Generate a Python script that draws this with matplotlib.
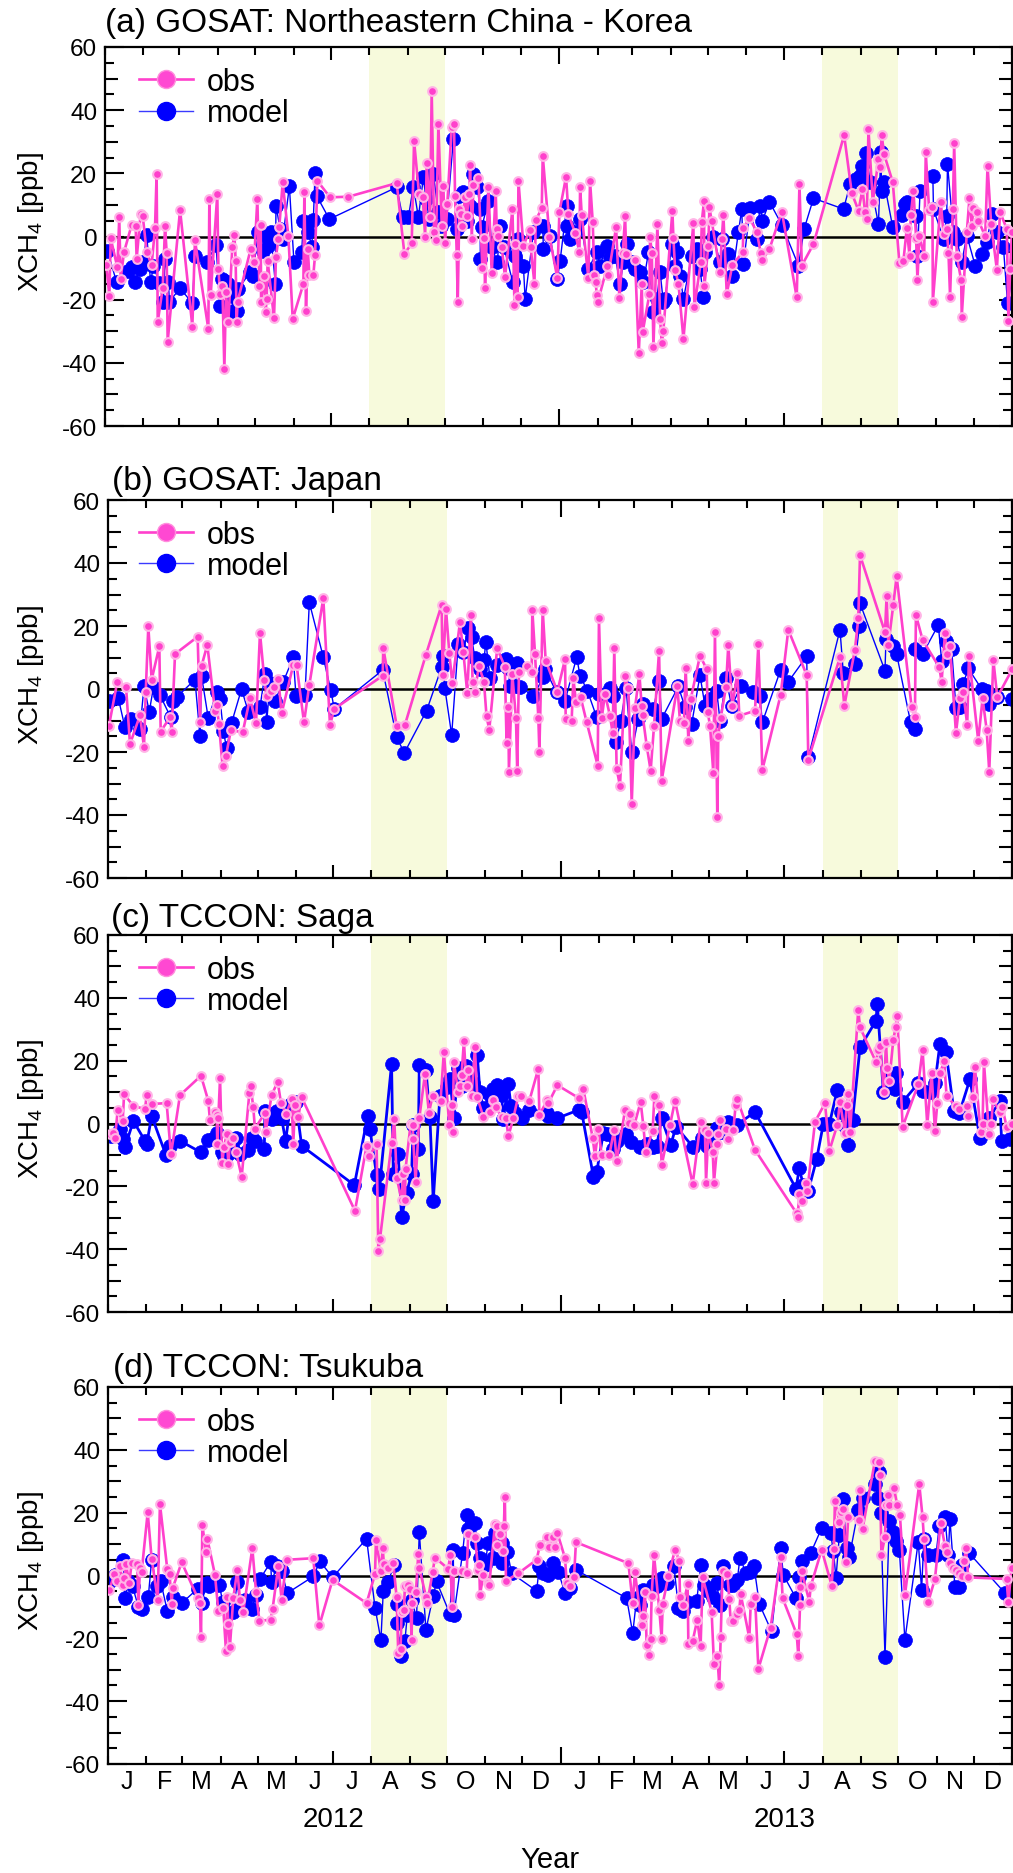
import datetime as dt
import numpy as np
import matplotlib
matplotlib.use("Agg")
import matplotlib.pyplot as plt
from matplotlib.lines import Line2D
from matplotlib.ticker import FixedLocator, MultipleLocator, NullFormatter, FuncFormatter

plt.rcParams['font.family'] = ['Liberation Sans', 'DejaVu Sans']
plt.rcParams['mathtext.default'] = 'regular'

# ---------------- data (day since 2012-01-01, XCH4 anomaly [ppb]) ----------------
panel_titles = ["(a) GOSAT: Northeastern China - Korea", "(b) GOSAT: Japan",
                "(c) TCCON: Saga", "(d) TCCON: Tsukuba"]
shade_periods = [("2012-08-01", "2012-10-01"), ("2013-08-01", "2013-10-01")]
month_letters = list("JFMAMJJASOND") * 2
year_labels = [("2012", "2012-07-01"), ("2013", "2013-07-01")]
series_labels = ["obs", "model"]

obs_a = [(1,-9),(3.5,-18.7),(4.6,-0.6),(10,-9.8),(11.5,6.1),(12.6,-13.5),(15.3,-5),(21.5,3.7),(24.7,3.4),
 (25.5,-7.1),(28.7,7.1),(30.4,6.6),(33.6,-5),(37.6,-9),(40.3,2.6),(41.6,19.8),(42.5,-27),(46.5,-16.4),
 (48.4,3.4),(49.7,-5.2),(50.5,-33.3),(60.5,8.4),(70.4,-28.5),(72.5,-1.2),(83.3,-29.3),(84.1,11.9),
 (85.2,-18.5),(90.5,13.5),(91.4,-10.3),(92.7,-18.2),(94.6,-15.6),(96.2,-42),(97.5,-17.7),(99.4,-27),
 (102.6,-3.4),(104.3,0.5),(105.3,-7.7),(106.1,-27),(106.9,-20.6),(117.4,-4),(120.1,-8.2),(122.8,11.9),
 (124.4,-15.6),(125.5,3.6),(125.8,-20.8),(128.2,-12.4),(129.5,-23.8),(130.3,-19.8),(131.1,-7.7),
 (136.2,-25.9),(137.8,-6.6),(139.7,-0.8),(140.5,3.1),(143.2,17.2),(147.8,0.1),(151.3,-26.1),(159.9,-15),
 (160.7,14.2),(162,-23.5),(163.4,-4),(164.7,-12.2),(167.9,-12.2),(169.3,-5.9),(171.2,17.6),(181.4,12.4),
 (196.2,12.6),(235.1,16.9),(241.3,-5.5),(247.2,-2.2),(249.1,30.3),(253.1,13.5),(256.1,12.4),(258,0),
 (259.3,23.2),(262,6.1),(263.3,46.2),(265.2,1.3),(266.8,-1.1),(268.7,35.6),(271.4,3.4),(272.7,16.1),
 (274.1,-2.1),(275.9,10.3),(279.4,34.6),(281.3,35.6),(282.1,12.9),(283.5,-5.9),(284.3,-20.6),(285.6,8.7),
 (286.7,7.1),(287.5,3.4),(290.2,12.4),(291.6,6.6),(293.7,13.5),(294.2,22.7),(295.6,-0.8),(296.9,16.3),
 (300.9,18.5),(304.2,-10.1),(305.5,-0.6),(306.3,-16.4),(309,15.8),(311.7,-11.7),(314.9,14.5),(315.7,2.4),
 (317.1,0.3),(319.8,-3.4),(322.4,-12.9),(328.4,8.7),(330,-21.7),(330.5,-2.3),(332.6,-19.3),(333.2,17.7),
 (337.2,-2.9),(342.6,2.2),(343.1,-3.4),(346.1,-15),(347.2,5.2),(352,8.9),(352.8,25.6),(358.2,0),
 (364.6,-13.2),(366.2,7.7),(371.6,18.9),(373.5,7.1),(378.9,1.1),(382.4,-5),(382.9,15.8),(384.2,6.9),
 (389.6,-13.2),(390.9,17.7),(393.1,4.5),(394.4,-12.2),(395.5,-14.5),(396.3,-18.5),(397.1,-20.8),
 (404.9,-9.4),(405.7,-12.2),(411.9,2.9),(414.6,-19.6),(417.3,-5.3),(419.2,6.6),(420,-5.5),(427.2,-7.4),
 (430.2,-37),(432.6,-15),(433.4,-30.1),(438.8,-18.2),(439.3,-0.2),(440.7,-5.2),(442,-35.1),(445.2,3.8),
 (447.4,-26.1),(448.7,-33.8),(450,-30),(457.3,8.2),(458.1,-0.5),(459.5,-10.5),(462.2,-15),(466.2,-32.5),
 (474.2,4.3),(475,-22.4),(480.2,-8),(481,4.7),(482.8,11.3),(483.1,-15.6),(486.3,-2.9),(487.1,9.2),
 (489,4.9),(495.7,-11.3),(497.1,-0.8),(498.4,6.9),(501.1,-18.2),(505.7,-8.9),(514,-5),(514.5,2.6),
 (519.4,5.9),(525.3,1.4),(528.5,-5.2),(529.9,-7.4),(535.5,-4),(545.5,7.9),(557.5,-19.3),(559.7,16.6),
 (561.6,-9.2),(571,-2.4),(595.7,32.1),(601.9,13.7),(607.3,8.2),(610.5,15),(612.6,7.7),(614,5.5),
 (615.3,34),(618.8,11),(623.4,24.5),(624.7,21.9),(626,32.1),(627.9,26.1),(634.9,17.2),(640.3,-8.5),
 (643.5,-7.7),(646.2,2.6),(648.4,-6.1),(649.4,6.8),(651.6,14.5),(653.7,-0.5),(654.8,-13.8),(656.4,0.3),
 (660.2,-6.1),(661.5,26.6),(664.2,8.5),(666.9,9.2),(667.2,-20.6),(673.6,11),(675.8,0.8),(678.4,2.4),
 (679.8,-5.2),(681.1,-19),(683.3,8.7),(684.4,29.5),(686.5,-6.1),(690,-13.8),(690.5,-25.4),(694.6,1.4),
 (696.7,12.1),(698.6,3.4),(699.9,8.9),(702.7,7.7),(704,5),(709.4,0.1),(711.3,22.4),(714.2,3.9),
 (718.8,-10.5),(721.4,7.7),(726.8,2.4),(728.1,-26.6),(729.5,-10.3),(731,1.4)]

model_a = [(1.9,-4.5),(9.4,-14.5),(18.8,-10.8),(21.5,-9.8),(24.2,-14.3),(28.2,-10.3),(30.9,-8.2),(33.6,0.5),
 (36.8,-14.5),(39,-9.2),(43.8,-14.7),(47,-20.8),(48.4,-7.1),(51.1,-14.5),(51.9,-20.6),(60.5,-16.4),
 (70.4,-21.1),(72.5,-6.3),(81.9,-8.2),(89.5,-2.7),(92.7,-21.9),(94,-13.5),(96.7,-14),(99.4,-15),
 (102.1,-18.7),(103.4,-23.5),(106.7,-23.5),(107.5,-16.6),(116.9,-11.3),(119,-12.4),(123.6,1.4),
 (127.6,-4.5),(130.3,-0.2),(131.7,-2.9),(133.5,1.4),(137.3,-15),(137.8,9.8),(141.1,2.4),(143.2,-0.8),
 (148.6,15.9),(152.3,-8.2),(158.5,-5),(159.9,5),(163.9,1.4),(166.6,-3.4),(167.9,5.2),(169.3,20.1),
 (170.6,12.9),(180.8,5.5),(235.1,15.6),(239.9,6.1),(244.5,6.1),(248.5,15.8),(252.6,6.1),(256.6,18.7),
 (258.7,11.9),(261.4,5.5),(264.6,19.8),(268.7,7.6),(270.6,3.4),(275.4,5.5),(280.8,30.9),(283.5,2.4),
 (285.6,12.9),(288.8,14),(291.5,5),(294.2,9.8),(296.9,19.8),(300.1,15.6),(302.3,8.7),(302.5,-7.1),
 (303.6,2.9),(309,11.3),(311.7,-3.4),(316.2,-8.2),(318.4,3.4),(321.6,-3.4),(328.6,-14.5),(330.5,-6.1),
 (333.2,-0.8),(337.2,-9.2),(338.6,-19.8),(345.3,1.4),(352.8,3.4),(353.3,-3.9),(358.7,0.1),(364.6,-13.5),
 (366.8,-7.7),(372.1,9.6),(372.5,3.4),(374.8,-0.8),(378.9,1.4),(382.9,5.5),(389.6,-10.3),(396.3,-5),
 (399,-9.2),(404.4,-2.9),(407.1,-6.6),(411.1,-6.1),(415.1,-15),(417.8,-8.2),(420.5,-2.4),(424.5,-8.2),
 (427.2,-10.3),(431.3,-11.3),(434,-14.5),(438,-5),(442,-24),(444.7,-19.8),(447.4,-11.3),(450,-20.8),
 (451.4,-19.8),(456.8,-2.4),(459.5,-9.2),(460.8,-5),(463.5,-12.4),(466.2,-19.8),(472.9,-6.1),
 (476.9,-3.9),(479.6,-10.3),(482.3,-19.3),(483.7,-5),(490.4,-0.2),(495.7,-8.2),(497.1,-0.8),(502.5,-5.5),
 (505.7,-12.4),(510.5,1.4),(513.2,8.7),(514.6,-8.7),(519.9,8.9),(525.3,-0.8),(528,9.8),(529.9,5),
 (535.5,11),(545.5,3.7),(558.9,-9.2),(563.5,2.4),(571,12.1),(595.2,8.7),(600.6,16.6),(605.4,18.2),
 (608.1,19.3),(609.9,22.4),(613.4,26.4),(616.7,17.2),(623.4,4),(625.2,26.6),(626,14.5),(627.9,17.2),
 (634.9,2.9),(642.2,6.8),(644.8,10.3),(646.7,10.8),(653.7,6.6),(654.8,-6.1),(656.9,14.5),(667.2,19.3),
 (667.7,8.7),(675.8,-0.8),(678.4,6.6),(679,23),(683.8,1.4),(686.5,-0.8),(690.5,-8.2),(694.6,0.3),
 (701.3,-9.2),(706.7,-5.5),(710.7,-1.8),(714.7,7.1),(718.8,1.4),(724.1,-3.4),(727.4,-21.1),(731,-13.5)]

obs_b = [(0.8,-11.6),(7.5,2.3),(14.6,0.5),(17.8,-17.5),(25.9,-8.3),(29.1,-18.5),(30.5,-1.1),(32.6,19.9),
 (35.3,3),(41.5,13.5),(42.6,-13.5),(50.1,-9),(51.5,-13.5),(54.2,11.1),(72.5,16.6),(74.4,-10.6),(75.7,7.4),
 (80.3,14),(86.5,-6.9),(87.9,-5.1),(89.7,-11.1),(92.7,-24.6),(95.4,-21.2),(99.4,-13),(108.9,-13.8),
 (114.8,-3),(119.7,-10.8),(122.9,17.8),(126.4,3),(128.3,-2.3),(131.5,-0.5),(134.2,0.5),(137.7,3.2),
 (140.4,-7.7),(149.8,7.6),(152.5,7.6),(158.5,-10.6),(162.8,1.3),(174.1,28.8),(179.5,-11.4),(183,-6.3),
 (222.1,4.2),(222.6,13),(233.4,-11.6),(240.1,-11.4),(257.1,10.9),(269.8,26.7),(270.6,4.4),(273.3,25.4),
 (276,11.4),(278.4,1.9),(284.6,21.2),(287.3,11.9),(290.5,-1.3),(293.5,23.6),(294.8,2.3),(296.7,-0.8),
 (299.9,7.4),(304,2.3),(306.1,-8.7),(308.3,-12.9),(314.7,12.9),(320.9,7.1),(322.3,-17.1),(323.7,-5.8),
 (324.2,-26.2),(326.9,4.8),(329.9,-9.3),(330.9,-25.9),(332.3,5.3),(339.1,7.4),(342.6,5.3),(343.1,25.2),
 (345.3,11.1),(348,-9.3),(348.8,-19.9),(351.5,25.2),(353.9,9),(363.4,-0.8),(369.6,9.5),(370.1,-9.5),
 (374.9,-10.1),(376.3,3.4),(378.4,-4),(382.2,-2.6),(387.1,-10.6),(396,-24.3),(397,22.5),(399.2,-9.3),
 (401.9,-1.6),(405.9,-8.5),(408.1,-14),(409.4,12.9),(411.3,-25.4),(414,-30.7),(418.3,4),(420.8,0.2),
 (423.5,-36.5),(426.1,-6.1),(429.7,4.8),(431.5,-5.3),(432.3,-8.3),(435.6,-18),(438.8,-25.9),(441.5,-11.9),
 (445.6,12),(447.7,-29.1),(460.4,0.8),(462.5,-10.1),(465.8,-10.8),(467.1,6.8),(469.3,-16.4),(471.2,-3.2),
 (478.7,10.6),(484.1,6.3),(484.9,-7.2),(486.8,-11.6),(489.5,-26.8),(490.8,18.2),(492.7,-40.7),
 (493.5,-14.8),(495.4,-9.3),(499.7,0.5),(501.6,14),(504.8,-5.5),(508.9,5),(510.5,-8.5),(523.2,-6.9),
 (525.9,14.3),(529.1,-25.7),(543.9,-1.9),(550.1,18.8),(565,4.4),(566.3,-22.4),(591.9,10.1),(595.4,-5.3),
 (604,12.5),(606.7,22.4),(608.1,42.5),(628.3,18),(629.6,29.4),(631,14),(635,26.7),(637.7,35.8),
 (649.8,-5.6),(652.5,-9),(653.3,23.5),(658.7,15.6),(672.2,6.9),(674.1,2.3),(676.8,17.8),(678.1,11.1),
 (680.8,13.5),(685.7,-14),(688.9,-3),(691.6,-1.1),(694.8,-11.4),(696.2,10.6),(703.7,-16.4),(707.2,-3),
 (710.5,-12.9),(712.6,-26.2),(715.9,9.3),(719.1,-2.6),(731.2,6.3)]

model_b = [(0.8,-3.7),(8.4,-3),(13.7,-12.2),(18.3,-9.5),(25.9,-12.7),(29.1,0.8),(33.4,-7.2),(36.7,0.5),
 (42,-1.9),(50.7,-9),(52.8,-3.9),(55.5,-2.6),(70.3,3),(74.4,-15),(75.7,4),(81.1,-9.3),(87.9,-1.1),
 (90.6,-3.2),(93.2,-13.2),(95.9,-18.8),(99.9,-10.8),(108,0),(113.4,-7.2),(122.9,-5.8),(126.9,4.8),
 (128.3,-10.6),(131,1.9),(135,-3.7),(141.8,2.3),(149.8,10.1),(152,-2.1),(159.3,-1.9),(162.8,27.5),
 (174.1,10.1),(180,-0.2),(183,-6.3),(222.1,6),(233.4,-15.3),(239.6,-20.3),(257.6,-6.9),(269.8,6.9),
 (270.6,10.6),(272.4,0.2),(277.9,-14.6),(283.2,14.3),(287.3,11.9),(291.3,19.3),(294,16.4),(296.7,9.7),
 (300.8,6.3),(304,9.3),(305.6,15),(308.8,3.4),(314.7,7.6),(321.7,9.5),(323.7,6.6),(325,1.1),(329.1,1.1),
 (331,8.3),(333.2,0.5),(344,-2.1),(352,3.7),(353.4,6.3),(362.8,-1.1),(369.6,-3.7),(379,10.1),(381.7,4.2),
 (387.6,-0.5),(395.2,-9),(397.3,-1.6),(405.9,0.2),(408.6,-2.1),(410.8,-16.7),(414.6,-10.1),(418.9,0.2),
 (423.5,-19.9),(428.8,-9.5),(432.3,-4.8),(441,-6.3),(445.8,2.6),(447.7,-9.5),(461.2,0.8),(466.6,-5.8),
 (472,-11.1),(478.7,4.4),(482.7,-5.3),(486.8,-3.2),(492.2,-0.5),(494.9,-10.1),(499.7,3.4),(504.3,-5.5),
 (511.6,0.8),(521.8,-1.1),(527.2,-2.3),(529.1,-10.6),(543.9,6.1),(550.1,2.3),(565,10.4),(566.3,-21.7),
 (591.9,18.8),(594.6,5.1),(604,7.9),(607.6,19.9),(608.1,27.2),(628.3,5.8),(629.1,15.9),(635,13.5),
 (637.7,11.1),(649,-10.6),(652.5,-12.7),(652.9,12.7),(658.7,11.1),(671.4,20.3),(674.1,9),(677.6,15.3),
 (682.2,12.7),(685.7,-6.1),(688.9,-5.8),(691.6,1.6),(695.6,6.6),(706.4,0),(710.5,-0.5),(712.6,-4.8),
 (718.6,-2.6),(731.2,-3.2)]

obs_c = [(1.6,-3.4),(4.3,-2.9),(5.7,-4.5),(7.8,4.2),(11.9,0.8),(13,9.3),(20.5,5.6),(29.9,4.6),(31.3,9),
 (35.3,6.2),(47.4,6.5),(50.9,-9.8),(58.2,9),(75.2,15.2),(81.1,7.2),(82.4,1.2),(86.5,3.7),(87.9,2.7),
 (88.4,-6.6),(89.2,1.6),(90.6,14.4),(92.4,-12.6),(93.8,-7.6),(95.9,-3.4),(97.3,-12.9),(98.6,-6),
 (100.8,-4.5),(103.5,-9),(108.1,-17),(114.3,9.7),(115.3,12),(117.5,5.1),(118.8,-1.6),(126.9,3.3),
 (127.5,-2.7),(132.3,9),(137.2,13.3),(139.9,6.5),(143.9,3),(148.5,7.7),(149.8,-6.6),(151.2,5.8),
 (153.9,2.2),(156.6,8.3),(199.7,-27.8),(209.1,-7.1),(211.3,-10.3),(217.2,-6.6),(218.6,-40.5),
 (219.9,-36.8),(229.3,-6.3),(231.5,1.4),(233.4,-17.2),(237.4,-24.3),(238.8,-16.1),(240.1,-24.3),
 (240.6,-14.5),(244.7,-0.2),(246.3,-0.5),(246.8,-4.8),(248.7,-18.6),(251.7,1.6),(256.3,15.7),(259.5,3.5),
 (262.5,8.8),(268.9,7.2),(271.6,22.9),(275.9,-0.5),(277.9,5.8),(278.6,-2.7),(279.7,19.6),(283.2,9.9),
 (284.6,12),(285.9,15.4),(287.8,26.3),(289.9,11.8),(291.3,17.1),(294,8.6),(296.7,24.2),(298.6,8.3),
 (303.5,2.2),(308.8,3.7),(311,7.5),(313.4,5.1),(318.3,2.2),(321.8,1.9),(323.7,-4.1),(327.7,1.6),
 (331.8,8.8),(333.7,8.6),(340.7,7.2),(348,17.5),(348.8,2.7),(355.3,7.5),(356.1,6.5),(363.4,12.2),
 (381.1,8),(384.4,10.9),(391.9,-4.5),(393.8,-10.5),(396.5,-1.8),(399.2,-10.1),(405.4,-10.1),(409.2,-2),
 (411.3,-11.9),(418.1,4.2),(421.6,0.3),(422.1,3),(425.6,-0.5),(430.7,6.9),(432.9,-0.7),(434.8,-9),
 (440.4,-2.3),(441.8,8.6),(445.8,5.8),(447.7,-13.3),(454.4,-0.5),(458.5,7.2),(472.8,-19.3),(479.2,0.5),
 (482.7,-2),(483.6,-18.8),(485.4,-2.9),(489,-9),(490,-18.8),(492.7,-6.6),(493.5,-3.4),(494.9,1.2),
 (499.7,-1.6),(501.6,-4.8),(505.7,-2),(507.5,5.8),(508.9,7.7),(523.2,-8.4),(556.9,-28.6),(557.7,-29.7),
 (559,-22.5),(560.9,-24.6),(564.4,-19),(565.5,-21.4),(571.7,0.5),(579.8,6.5),(583.3,-8.7),(589.7,-0.5),
 (591.9,6.9),(595.9,-3.1),(597.3,5.8),(598.6,9.3),(600,-2.7),(606.7,36.2),(608.1,30.6),(621,19.6),
 (622.9,23.4),(624.2,24.7),(627.5,9.9),(629.1,26),(630.1,17.8),(631.8,13.6),(635,26.6),(636.9,30.6),
 (638.2,34.3),(642.6,-1),(655.2,12.5),(658.7,23.4),(662.5,-0.5),(666,16),(668.7,-2.3),(670.6,6.5),
 (672.7,16),(676.2,19.9),(678.1,8.6),(685.7,5.6),(688.4,4.6),(694.3,5.6),(695.1,2.4),(699.1,8.3),
 (701,18.1),(705.6,-2.7),(707.2,-0.2),(708.3,19.6),(712.4,-3.4),(714.3,-0.2),(715.6,7.7),(721.2,3.7),
 (723.2,5.1),(726.6,-1),(730.7,-0.2)]

model_c = [(2.4,-3.9),(9.7,-1.8),(11.9,-5),(13.7,-7.6),(20.5,0.8),(29.9,-5.5),(31.3,-6.6),(35.3,2.4),
 (46.9,-10.1),(50.1,-7.1),(58.2,-5.5),(75.2,-9.2),(81.1,-5.2),(85.2,-5),(88.4,-2.9),(91.9,-9),
 (93.8,-10.3),(97.3,-9.8),(99.9,-7.1),(103.5,-4.5),(106.7,-9.8),(113.5,-8.4),(116.2,-4.5),(118.8,-5.5),
 (126.4,-8),(126.9,4),(132.3,1.4),(136.4,4),(140.4,1.6),(143.6,-5.5),(147.7,6.2),(152,6.7),(156.6,-7.1),
 (199.2,-19.6),(210,2.4),(211.8,-1.8),(217.2,-16.4),(219.4,-20.7),(229.3,18.9),(230.7,-16.1),
 (234.7,-9.8),(237.4,-29.9),(241.5,-22),(245.5,-16.1),(246.8,-0.5),(250.9,-8),(251.7,18.6),(257.1,17.1),
 (260.3,2.2),(263,-24.6),(268.4,8.8),(273.8,11.5),(276.5,14.1),(279.7,1.9),(283.2,17.8),(285.9,11.8),
 (289.4,18.4),(291.3,15.2),(295.4,12.8),(298.6,21.8),(300.8,9.9),(303.5,4.8),(308.8,9),(311,11.1),
 (314.2,12.2),(318.3,9),(319.6,1.4),(323.7,12.5),(325.9,5.6),(329.1,3.5),(334.5,1.9),(340.7,4.4),
 (354.7,3.5),(356.1,2.4),(362.8,1.6),(381.1,4.4),(383,3.7),(392.5,-16.9),(395.2,-15.4),(400.5,-3.1),
 (403.8,-3.4),(408.6,-8.2),(411.9,-5.5),(418.9,-3.4),(422.6,-6),(430.2,-7.6),(435.6,-6.6),(441,-7.6),
 (443.7,-7.1),(447.7,1.6),(455,-6.9),(459.3,-1),(473.3,-7.6),(480,-4.5),(484.1,-7.1),(489.5,-5),
 (492.2,-1.3),(495.4,-2.7),(501.6,0.5),(508.3,-0.5),(523.2,3.7),(556.3,-20.7),(559,-14.3),(562.2,-19.6),
 (566.3,-21.4),(573,-11.4),(578.4,-0.2),(583.3,-0.2),(589.7,10.7),(592.4,3.7),(595.9,-0.7),(598.6,-6.9),
 (602.1,1.2),(608.1,24.2),(621,32.7),(622.1,38),(627,9.9),(631.3,15.2),(636.4,11.1),(637.2,16),
 (642.6,6.9),(655.2,12.8),(659.2,10.4),(664.6,9.9),(668.7,12.8),(672.7,25.3),(677.6,22.8),(684,4),
 (688.4,3.3),(697,14.1),(705,-4.5),(712.6,1.6),(721.2,7.2),(722.6,-5.5),(729.3,-5)]

obs_d = [(1.1,-4.6),(5.1,0.4),(7.5,-1.9),(9.7,2.9),(11.9,-3),(13.2,-0.8),(14.6,3.6),(17.2,-2.4),(19.1,3.9),
 (23.7,3.6),(24.5,-9.3),(25.9,2.3),(27.2,1.1),(32.1,20.1),(35.3,5.3),(40.2,-7.7),(42,22.8),(47.9,2.1),
 (49.8,0.4),(51.5,-9.1),(52.3,-4),(59.6,4.2),(72.5,-7.2),(74.4,-8.8),(75.2,-19.7),(76.3,16.1),(79.2,7.4),
 (80.3,11.7),(86.5,0.2),(89.2,-11.2),(93.2,-10.4),(95.4,-24),(96.4,-6.7),(97.3,-15.5),(98.6,-22.6),
 (101.3,-7.2),(104.6,1.8),(106.7,-7.7),(109.4,-11.5),(116.7,8.7),(119.7,-5.1),(122.4,-14.4),
 (131.5,-14.1),(133.1,-10.6),(137.7,2.9),(140.4,-7.7),(144.5,5),(166,5.5),(170.9,-15.9),(181.6,-1.4),
 (209.1,-8.8),(215.9,0.4),(216.7,11.4),(220.7,1.3),(222.1,8.9),(223.1,3.6),(226.6,2.3),(230.7,3.9),
 (233.4,-7),(234.7,-24.7),(236.6,-23.3),(237.4,-11.5),(239.3,-10.9),(240.1,-3.2),(242.8,-3),(244.2,-4.2),
 (245.5,-20.5),(245.9,-8.8),(249,-5.3),(250.9,6.8),(251.7,2.5),(257.1,-6.7),(258.2,-8.8),(262.5,1.1),
 (264.4,5.7),(275.2,2.1),(276.5,6.4),(278.4,-9.9),(279.7,1.5),(285.9,1.5),(290,0.7),(291.3,13.2),
 (296.7,12.4),(299.4,1.8),(300.2,3.2),(300.8,-6.2),(303.5,0.2),(307.5,-2.4),(308.3,-3),(312.9,16.3),
 (314.2,9.8),(314.8,15.6),(316.9,13.2),(319.1,7.9),(320.1,15.6),(320.9,25.1),(321.8,-1.7),(331.8,0.7),
 (346.6,5),(349.3,9.8),(355.3,12.4),(356.9,9.2),(359.6,12.4),(361.5,9.2),(363.4,13.5),(369.6,5.5),
 (370.9,-2.4),(373.6,-3.5),(376.8,-0.6),(378.4,10.6),(420.8,3.9),(424.3,-8.8),(426.1,1.1),(431.5,-15.7),
 (432.3,-13),(434.2,-5.3),(435.6,-22.1),(437.5,-25.3),(438.8,-20.2),(439.6,-6.4),(441.5,6.6),
 (445.8,-10.9),(447.7,-20.2),(448.5,-9.1),(453.1,-0.3),(458.5,8.2),(462,4.7),(462.5,-7),(465.2,-9.3),
 (468.7,-2.8),(469.3,-21.9),(472.8,-20.8),(476.5,-14.1),(479.2,-22.3),(480.9,-0.6),(488.1,-11.5),
 (490,-28.2),(492.7,-25.5),(494.3,-35),(495.4,-19.7),(497,1.5),(500.8,0.4),(502.4,-7.4),(503.5,-14.6),
 (505.1,-14.4),(508.9,-12.3),(510.5,-10.9),(511.6,-5.9),(518.6,-19.9),(519.7,-9.1),(523.2,-6.7),
 (525.9,-29.7),(535.8,-16.6),(543.9,6),(545.5,-7.2),(556.9,-18.7),(558.2,-25.5),(559.6,-9.5),
 (559.8,-3.8),(560.9,1.5),(567.1,-8.3),(568.2,-3.5),(577.1,8.2),(585.2,-3.2),(587,8.5),(587.8,23.8),
 (591.4,17),(592.4,20.2),(594.6,21.2),(596.5,4.2),(598.6,18.5),(607.5,17.7),(608.1,27.3),(610.2,14.9),
 (620.2,36.5),(623.7,36.1),(624.2,32),(625.4,6.6),(628.3,12.4),(629.1,22.3),(631,25.5),(631.8,22.5),
 (635.5,28),(638.2,22.3),(640.4,19.1),(644.4,-6.2),(656,29.1),(658.7,18.5),(659.8,11.7),(663.3,-8.3),
 (668.7,-1.1),(673.3,16.7),(676.8,9.5),(678.1,7.4),(680.8,3.9),(683.5,2.5),(685.7,1.8),(688.4,0.7),
 (690.3,0),(692.1,4.5),(693.8,8.7),(695.6,-0.6),(726.6,-1.1),(728,-8.5),(730.7,2.5)]

model_d = [(1.6,-1.9),(5.7,0.2),(12.4,5),(13.7,-7.2),(16.4,-1.9),(19.9,-3.5),(24.5,-9.9),(27.2,-10.6),
 (32.6,-6.7),(35.3,5),(39.3,-3.5),(42.6,-1.9),(47.9,-11.2),(52.3,-6.7),(59.6,-8.8),(72.5,-4.2),
 (75.7,-8.8),(79.8,-2.4),(81.9,-3.5),(90,-3),(92.7,-8.3),(101.3,-11.5),(104.6,-2.1),(106.2,-8.3),
 (110.8,-7.7),(116.2,-10.6),(119.7,-6.2),(122.9,-1.1),(131.5,4.2),(132.3,-2.1),(136.4,2.9),(140.4,1.3),
 (145,-5.6),(166,-0.3),(171.4,4.5),(181.6,-0.6),(209.1,11.7),(215.9,-10.2),(220.7,-20.5),(222.6,-4.9),
 (226.6,-2.1),(231.2,3.4),(233.4,-9.1),(233.8,-15.2),(237,-25.5),(240.1,-20.8),(242,-12.7),(245.5,-7.7),
 (249.5,-13.6),(251.7,14),(257.1,-17.3),(263,-6.4),(265.7,-1.9),(276.5,-12.3),(279.2,8.2),(279.7,-12.5),
 (286.7,7.1),(290,19.3),(291.3,14.9),(296.7,16.7),(298.6,10.3),(300.8,5.5),(304.8,3.4),(307.5,10.3),
 (311.5,5.5),(312.9,13.5),(318.3,10.3),(318.6,3.9),(322.9,7.6),(326.4,0.7),(346.6,-4.9),(348.8,2.9),
 (352,0.7),(356.1,0.2),(359.6,3.9),(364.2,1.1),(369.6,-5.6),(373.6,-4),(378.4,1.8),(419.4,-7.2),
 (424.3,-18.4),(427.5,-7.2),(430.2,-9.3),(432.9,-4.6),(441,-3),(443.7,-3.5),(447.7,-0.8),(451.8,-2.4),
 (457.7,2.9),(461.2,-10.2),(464.7,-11.2),(467.9,-8.5),(476,-8.1),(479.5,3.4),(482,-3),(485.4,-4.9),
 (489.5,-7),(492.2,-2.4),(494.9,-9.5),(497.6,2.9),(503,-3),(505.7,-3),(508.9,-1.4),(511,5.7),(516,0.7),
 (519.1,1.1),(522.4,2.9),(526.7,-9.1),(536.6,-17.8),(543.9,8.9),(546.1,0.2),(556.3,-7.2),(559,-0.6),
 (560.9,4.7),(568.2,7.1),(577.1,15.1),(584.3,13.5),(586.5,7.9),(588.7,-0.8),(591.4,12.9),(594.1,24.4),
 (597.3,8.9),(599.5,6),(606.7,20.9),(610.2,24.6),(620.2,29.1),(622.9,24.6),(623.7,32.9),(624.8,19.8),
 (628.3,-26.1),(631.8,17.4),(635,14),(637.2,11),(639.9,8.2),(644.4,-20.5),(655.2,10.8),(657.9,-4.6),
 (659.8,11.7),(663.3,6.6),(669.5,6.4),(672.2,15.9),(676.8,18.5),(679.5,6.6),(680.8,18),(684.9,-3.8),
 (688.4,-3.8),(690.3,3.4),(696.4,7.1),(725.3,-5.6),(731.2,-5.6)]

panels = [(obs_a, model_a), (obs_b, model_b), (obs_c, model_c), (obs_d, model_d)]

# ---------------- layout / style ----------------
W, H = 1013, 1874
boxes = [(105, 48, 1012, 427), (108, 501, 1012, 879), (108, 936, 1012, 1313), (108, 1388, 1012, 1765)]
title_off = [(0.0, 0.042), (0.004, 0.029), (0.003, 0.025), (0.006, 0.028)]
model_lw = [1.0, 1.0, 2.0, 1.0]
OBS_C = '#FF40CC'
OBS_EDGE = '#FFB4E6'
MOD_C = '#0000FF'
SHADE = '#F7FADC'

base = dt.date(2012, 1, 1)
def dnum(s):
    return (dt.date.fromisoformat(s) - base).days

month_starts = [(dt.date(2012 + i // 12, i % 12 + 1, 1) - base).days for i in range(25)]
month_mid = [(a + b) / 2 for a, b in zip(month_starts[:-1], month_starts[1:])]
major_x = [dnum("2012-07-01"), dnum("2013-01-01"), dnum("2013-07-01")]

fig = plt.figure(figsize=(W / 100, H / 100), dpi=100)

for k, (box, (obs, mod)) in enumerate(zip(boxes, panels)):
    l, t, r, b = box
    ax = fig.add_axes([l / W, 1 - b / H, (r - l) / W, (b - t) / H])
    for s0, s1 in shade_periods:
        ax.axvspan(dnum(s0), dnum(s1), color=SHADE, lw=0, zorder=0)
    ax.axhline(0, color='black', lw=1.8, zorder=1)

    od = np.array(obs, dtype=float)
    md = np.array(mod, dtype=float)
    od = od[np.argsort(od[:, 0], kind='stable')]
    md = md[np.argsort(md[:, 0], kind='stable')]
    ax.plot(md[:, 0], md[:, 1], '-', color=MOD_C, lw=model_lw[k], marker='o', ms=10,
            mfc=MOD_C, mec=MOD_C, mew=0.5, zorder=2)
    ax.plot(od[:, 0], od[:, 1], '-', color=OBS_C, lw=1.9, marker='o', ms=6.3,
            mfc=OBS_C, mec=OBS_EDGE, mew=1.5, zorder=3)

    ax.set_xlim(0, month_starts[-1])
    ax.set_ylim(-60, 60)

    # x ticks
    ax.xaxis.set_major_locator(FixedLocator(major_x))
    ax.xaxis.set_minor_locator(FixedLocator(month_starts))
    ax.xaxis.set_major_formatter(NullFormatter())
    ax.xaxis.set_minor_formatter(NullFormatter())
    ax.tick_params(axis='x', which='both', direction='in', top=True, bottom=True, width=1.5)
    ax.tick_params(axis='x', which='major', length=9.5)
    ax.tick_params(axis='x', which='minor', length=6)

    # y ticks
    ax.yaxis.set_major_locator(MultipleLocator(10))
    ax.yaxis.set_minor_locator(MultipleLocator(5))
    ax.yaxis.set_major_formatter(FuncFormatter(
        lambda v, p: f"{int(round(v))}" if int(round(v)) % 20 == 0 else ""))
    ax.tick_params(axis='y', which='both', direction='in', left=True, right=True, width=1.5,
                   labelsize=17.5, pad=5.5)
    ax.tick_params(axis='y', which='major', length=9.5)
    ax.tick_params(axis='y', which='minor', length=6.5)

    for sp in ax.spines.values():
        sp.set_linewidth(1.6)

    # special tick lengths
    for loc, tk in zip(major_x, ax.xaxis.get_major_ticks()):
        if loc == dnum("2013-01-01"):
            tk.tick1line.set_markersize(12.5)
            tk.tick2line.set_markersize(12.5)
    ylocs = ax.yaxis.get_majorticklocs()
    for loc, tk in zip(ylocs, ax.yaxis.get_major_ticks(len(ylocs))):
        if int(round(loc)) % 20 == 0:
            tk.tick1line.set_markersize(13.5)

    # title & ylabel
    xo, yo = title_off[k]
    ax.text(xo, 1 + yo, panel_titles[k], transform=ax.transAxes, fontsize=24,
            ha='left', va='baseline')
    ax.set_ylabel('XCH$_4$ [ppb]', fontsize=20)
    ax.yaxis.set_label_coords((46 - l) / (r - l), 0.54)

    # legend
    h_obs = Line2D([], [], color=OBS_C, lw=1.9, marker='o', ms=13, mfc='#FF48D2', mec='#FF8FDD', mew=1.0)
    h_mod = Line2D([], [], color='#3A3AFF', lw=1.0, marker='o', ms=13, mfc=MOD_C, mec=MOD_C)
    ax.legend([h_obs, h_mod], series_labels, loc='upper left',
              bbox_to_anchor=((139 - l) / (r - l), 0.948), frameon=False, fontsize=22,
              handlelength=1.77, handletextpad=0.45, labelspacing=0.05, borderpad=0,
              borderaxespad=0, numpoints=1)

    if k == 3:
        xt = ax.get_xaxis_transform()
        for m, lab in zip(month_mid, month_letters):
            ax.text(m, -0.013, lab, transform=xt, ha='center', va='top', fontsize=18)
        for lab, d in year_labels:
            ax.text(dnum(d), -0.146, lab, transform=xt, ha='center', va='center', fontsize=20)

fig.text(550 / W, 1 - 1868 / H, 'Year', ha='center', va='baseline', fontsize=21)

fig.savefig('out.png', dpi=100)
